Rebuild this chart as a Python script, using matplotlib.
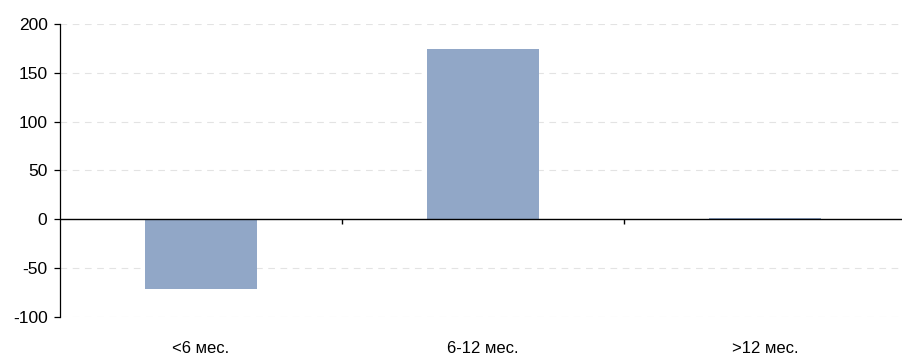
import matplotlib.pyplot as plt
import numpy as np

plt.rcParams['font.family'] = ['Liberation Sans', 'DejaVu Sans']

categories = ['<6 мес.', '6-12 мес.', '>12 мес.']
values = [-71.5, 174, 1]
yticks = [-100, -50, 0, 50, 100, 150, 200]

fig = plt.figure(figsize=(9.03, 3.56), dpi=100)
ax = fig.add_axes([60 / 903, 39 / 356, 846 / 903, 293 / 356])

x = np.arange(len(categories))
ax.bar(x, values, width=0.4, color='#91a7c7', zorder=2)

ax.set_xlim(-0.5, 2.5)
ax.set_ylim(-100, 200)
ax.set_yticks(yticks)
ax.set_yticklabels([str(v) for v in yticks], fontsize=12.5)
ax.tick_params(axis='y', length=4, width=0.9, pad=5)

# category labels at the bottom
ax.set_xticks(x)
ax.set_xticklabels(categories, fontsize=12)
ax.tick_params(axis='x', length=0, pad=17)

# dashed grid
for v in yticks:
    if v != 0:
        ax.axhline(v, color='#e3e3e3', lw=0.8, ls=(0, (6, 5)), zorder=0)

# zero line with category separators
ax.axhline(0, color='black', lw=1.0, zorder=3)
ax.vlines(x[:-1] + 0.5, -5, 0, color='black', lw=1.0, zorder=3)

for s in ['top', 'right', 'bottom']:
    ax.spines[s].set_visible(False)
ax.spines['left'].set_linewidth(0.9)

fig.savefig('out.png', dpi=100)
